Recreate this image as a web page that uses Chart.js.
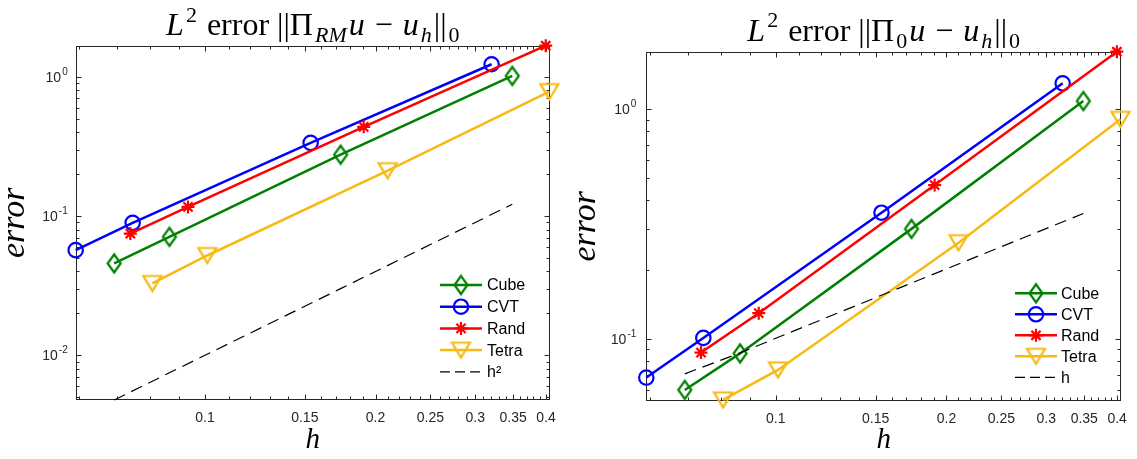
<!DOCTYPE html>
<html><head><meta charset="utf-8">
<script src="https://cdn.jsdelivr.net/npm/chart.js@4.4.0/dist/chart.umd.min.js"></script>
<style>
html,body{margin:0;padding:0;background:#fff;}
#wrap{position:relative;width:1137px;height:459px;background:#fff;}
canvas{position:absolute;left:0;top:0;}
</style></head><body>
<div id="wrap"><canvas id="c1" width="1137" height="459"></canvas><canvas id="c2" width="1137" height="459"></canvas></div>
<script>
// ---------------- data ----------------
const seriesNames = ['Cube', 'CVT', 'Rand', 'Tetra'];
const hCube  = [0.0691, 0.0865, 0.1735, 0.3487];
const hCVT   = [0.0591, 0.0745, 0.1536, 0.3206];
const hRand  = [0.0738, 0.0933, 0.1906, 0.3995];
const hTetra = [0.0807, 0.1009, 0.2101, 0.4054];

// left panel: ||Pi_RM u - u_h||_0
const eRM_Cube  = [0.0457, 0.0709, 0.276, 1.017];
const eRM_CVT   = [0.0569, 0.0894, 0.336, 1.233];
const eRM_Rand  = [0.0749, 0.1164, 0.438, 1.676];
const eRM_Tetra = [0.0328, 0.0521, 0.212, 0.784];
const eRM_ref   = [0.00477, 0.00748, 0.0301, 0.1216];   // h^2 guide
// right panel: ||Pi_0 u - u_h||_0
const e0_Cube  = [0.0600, 0.0865, 0.301, 1.083];
const e0_CVT   = [0.0679, 0.1010, 0.354, 1.293];
const e0_Rand  = [0.0872, 0.1294, 0.467, 1.775];
const e0_Tetra = [0.0543, 0.0733, 0.262, 0.902];
const e0_ref   = [0.0705, 0.0870, 0.175, 0.351];         // h guide

const xTickValues = [0.1, 0.15, 0.2, 0.25, 0.3, 0.35, 0.4];
const xTickLabels = ['0.1', '0.15', '0.2', '0.25', '0.3', '0.35', '0.4'];
const xMinorTicks = [0.06,0.07,0.08,0.09,0.11,0.12,0.13,0.14,0.16,0.17,0.18,0.19,0.21,0.22,0.23,0.24,0.26,0.27,0.28,0.29,0.31,0.32,0.33,0.34,0.36,0.37,0.38,0.39];
const yTickValuesL = [0.01, 0.1, 1];
const yTickExpL = ['-2', '-1', '0'];
const yTickValuesR = [0.1, 1];
const yTickExpR = ['-1', '0'];
const yMinorTicks = [0.002,0.003,0.004,0.005,0.006,0.007,0.008,0.009,0.02,0.03,0.04,0.05,0.06,0.07,0.08,0.09,0.2,0.3,0.4,0.5,0.6,0.7,0.8,0.9,2,3];

const xRange = [0.0591, 0.4065];
const yRangeL = [0.00477, 1.676];
const yRangeR = [0.0537, 1.775];

// ---------------- styles ----------------
const COL = {Cube:'rgb(0,128,0)', CVT:'rgb(0,0,255)', Rand:'rgb(255,0,0)', Tetra:'rgb(247,185,18)'};
const AX = '#262626';
const SANS = '"Liberation Sans", Arial, sans-serif';
const SERIF = '"Liberation Serif", "DejaVu Serif", serif';
Chart.defaults.font.family = SANS;

function markerCanvas(shape, color, w, h, lw) {
  const c = document.createElement('canvas');
  c.width = Math.ceil(w + lw * 2 + 2); c.height = Math.ceil(h + lw * 2 + 2);
  const g = c.getContext('2d');
  const cx = c.width / 2, cy = c.height / 2;
  g.strokeStyle = color; g.lineWidth = lw; g.lineJoin = 'miter';
  g.beginPath();
  if (shape === 'diamond') {
    g.moveTo(cx, cy - h / 2); g.lineTo(cx + w / 2, cy); g.lineTo(cx, cy + h / 2); g.lineTo(cx - w / 2, cy);
  } else {
    g.moveTo(cx - w / 2, cy - h / 2); g.lineTo(cx + w / 2, cy - h / 2); g.lineTo(cx, cy + h / 2);
  }
  g.closePath(); g.stroke();
  return c;
}
const diamondImg = markerCanvas('diamond', COL.Cube, 13, 18, 2.2);
const triImg = markerCanvas('tri', COL.Tetra, 18, 15, 2.2);

function pts(xs, ys) { return xs.map((x, i) => ({x: x, y: ys[i]})); }

function makeDatasets(eCube, eCVT, eRand, eTetra, eRef, refLabel) {
  const base = {borderWidth: 2.5, pointBorderWidth: 2.2, backgroundColor: 'rgba(0,0,0,0)', pointBackgroundColor: 'rgba(0,0,0,0)', clip: false, tension: 0, fill: false};
  return [
    Object.assign({}, base, {label: seriesNames[0], data: pts(hCube, eCube), borderColor: COL.Cube, pointBorderColor: COL.Cube, pointStyle: diamondImg, pointRadius: 9, order: 4}),
    Object.assign({}, base, {label: seriesNames[1], data: pts(hCVT, eCVT), borderColor: COL.CVT, pointBorderColor: COL.CVT, pointStyle: 'circle', pointRadius: 7.2, order: 3}),
    Object.assign({}, base, {label: seriesNames[2], data: pts(hRand, eRand), borderColor: COL.Rand, pointBorderColor: COL.Rand, pointStyle: 'star', pointRadius: 6.5, order: 2}),
    Object.assign({}, base, {label: seriesNames[3], data: pts(hTetra, eTetra), borderColor: COL.Tetra, pointBorderColor: COL.Tetra, pointStyle: triImg, pointRadius: 9, order: 1}),
    Object.assign({}, base, {label: refLabel, data: pts(hCube, eRef), borderColor: '#000', borderWidth: 1.2, borderDash: [12, 7], pointRadius: 0, order: 0})
  ];
}

function framePlugin(yMajor, yExp, yPad) {
  return {
    id: 'frame',
    beforeDatasetsDraw(chart) {
      const ctx = chart.ctx, a = chart.chartArea, xs = chart.scales.x, ys = chart.scales.y;
      ctx.save();
      ctx.strokeStyle = AX; ctx.lineWidth = 1;
      const L = Math.round(a.left) + 0.5, R = Math.round(a.right) - 0.5, T = Math.round(a.top) + 0.5, B = Math.round(a.bottom) - 0.5;
      ctx.strokeRect(L, T, R - L, B - T);
      ctx.beginPath();
      const xt = (v, len) => { const p = Math.round(xs.getPixelForValue(v)) + 0.5; ctx.moveTo(p, B); ctx.lineTo(p, B - len); ctx.moveTo(p, T); ctx.lineTo(p, T + len); };
      const yt = (v, len) => { const p = Math.round(ys.getPixelForValue(v)) + 0.5; ctx.moveTo(L, p); ctx.lineTo(L + len, p); ctx.moveTo(R, p); ctx.lineTo(R - len, p); };
      xTickValues.forEach(v => xt(v, 5));
      xMinorTicks.forEach(v => { if (v > xs.min && v < xs.max) xt(v, 3); });
      yMajor.forEach(v => { if (v >= ys.min && v <= ys.max) yt(v, 5); });
      yMinorTicks.forEach(v => { if (v > ys.min && v < ys.max) yt(v, 3); });
      ctx.stroke();
      // y tick labels: base "10" with raised exponent
      ctx.fillStyle = AX; ctx.textBaseline = 'alphabetic'; ctx.textAlign = 'left';
      yMajor.forEach((v, i) => {
        if (v < ys.min || v > ys.max) return;
        const p = ys.getPixelForValue(v);
        ctx.font = '10px ' + SANS; const we = ctx.measureText(yExp[i]).width;
        ctx.font = '14px ' + SANS; const wb = ctx.measureText('10').width;
        const x0 = a.left - yPad - we - wb - 1;
        ctx.fillText('10', x0, p + 5);
        ctx.font = '10px ' + SANS;
        ctx.fillText(yExp[i], x0 + wb + 1, p - 2);
      });
      ctx.restore();
    }
  };
}

function titlePlugin(segs, baseY, size, gap) {
  return {
    id: 'richTitle',
    afterDraw(chart) {
      const ctx = chart.ctx, a = chart.chartArea;
      const cx = (a.left + a.right) / 2;
      const fontOf = s => (s.it ? 'italic ' : '') + ((s.sub || s.sup) ? Math.round(size * 0.7) : size) + 'px ' + SERIF;
      ctx.save();
      ctx.fillStyle = '#000'; ctx.textBaseline = 'alphabetic'; ctx.textAlign = 'left';
      const widths = segs.map(s => { ctx.font = fontOf(s); return ctx.measureText(s.t).width + gap; });
      const total = widths.reduce((p, q) => p + q, 0) - gap;
      let x = cx - total / 2;
      segs.forEach((s, i) => {
        ctx.font = fontOf(s);
        const dy = s.sub ? size * 0.22 : (s.sup ? -size * 0.42 : 0);
        ctx.fillText(s.t, x, baseY + dy);
        x += widths[i];
      });
      ctx.restore();
    }
  };
}

function legendPlugin(x1, x2, tx, y0, dy) {
  return {
    id: 'inLegend',
    afterDraw(chart) {
      const ctx = chart.ctx;
      ctx.save();
      chart.data.datasets.forEach((ds, i) => {
        const y = y0 + i * dy;
        ctx.strokeStyle = ds.borderColor; ctx.lineWidth = ds.borderWidth;
        ctx.setLineDash(ds.borderDash ? [10, 5] : []);
        ctx.beginPath(); ctx.moveTo(x1, y); ctx.lineTo(x2, y); ctx.stroke();
        ctx.setLineDash([]);
        if (ds.pointRadius > 0) {
          ctx.strokeStyle = ds.pointBorderColor; ctx.fillStyle = 'rgba(0,0,0,0)'; ctx.lineWidth = ds.pointBorderWidth;
          Chart.helpers.drawPoint(ctx, {pointStyle: ds.pointStyle, radius: ds.pointRadius, rotation: 0, borderWidth: ds.pointBorderWidth}, (x1 + x2) / 2, y);
        }
        ctx.fillStyle = '#000'; ctx.font = '16px ' + SANS; ctx.textBaseline = 'middle'; ctx.textAlign = 'left';
        ctx.fillText(ds.label, tx, y + 1);
      });
      ctx.restore();
    }
  };
}

function makeChart(id, cfg) {
  return new Chart(document.getElementById(id), {
    type: 'line',
    data: {datasets: cfg.datasets},
    options: {
      responsive: false, animation: false, devicePixelRatio: 1,
      events: [],
      layout: {padding: {left: cfg.padL, right: 1137 - cfg.plotR, top: cfg.plotT, bottom: 0}},
      plugins: {legend: {display: false}, tooltip: {enabled: false}, title: {display: false}},
      scales: {
        x: {
          type: 'logarithmic', bounds: 'data', min: xRange[0], max: xRange[1],
          afterFit: s => { s.height = 459 - cfg.plotB; },
          afterBuildTicks: s => { s.ticks = xTickValues.map(v => ({value: v})); },
          ticks: {callback: (v, i) => xTickLabels[i], font: {family: SANS, size: 14}, color: AX, padding: 10, maxRotation: 0, autoSkip: false},
          grid: {display: false, drawTicks: false}, border: {display: false},
          title: {display: true, text: 'h', color: '#000', font: {family: SERIF, style: 'italic', size: 29, lineHeight: 1}, padding: {top: 0, bottom: 4}}
        },
        y: {
          type: 'logarithmic', bounds: 'data', min: cfg.yRange[0], max: cfg.yRange[1],
          afterFit: s => { s.width = cfg.plotL - cfg.padL; },
          afterBuildTicks: s => { s.ticks = cfg.yTicks.map(v => ({value: v})); },
          ticks: {display: false},
          grid: {display: false, drawTicks: false}, border: {display: false},
          title: {display: true, text: 'error', color: '#000', font: {family: SERIF, style: 'italic', size: 34, lineHeight: 1}, padding: {top: 0, bottom: 0}}
        }
      }
    },
    plugins: [framePlugin(cfg.yTicks, cfg.yExp, cfg.yPad), titlePlugin(cfg.title, cfg.titleY, 32, 2), legendPlugin(cfg.lg[0], cfg.lg[1], cfg.lg[2], cfg.lg[3], cfg.lg[4])]
  });
}

makeChart('c1', {
  datasets: makeDatasets(eRM_Cube, eRM_CVT, eRM_Rand, eRM_Tetra, eRM_ref, 'h\u00B2'),
  padL: -2, plotL: 75.7, plotR: 550, plotT: 45.7, plotB: 400,
  yRange: yRangeL, yTicks: yTickValuesL, yExp: yTickExpL, yPad: 8,
  title: [{t: 'L', it: true}, {t: '2', sup: true}, {t: ' error ||\u03A0'}, {t: 'RM', it: true, sub: true}, {t: 'u', it: true}, {t: ' \u2212 '}, {t: 'u', it: true}, {t: 'h', it: true, sub: true}, {t: '||'}, {t: '0', sub: true}],
  titleY: 35,
  lg: [440, 482, 487, 285, 21.7]
});
makeChart('c2', {
  datasets: makeDatasets(e0_Cube, e0_CVT, e0_Rand, e0_Tetra, e0_ref, 'h'),
  padL: 569, plotL: 646.3, plotR: 1123.3, plotT: 51.7, plotB: 401,
  yRange: yRangeR, yTicks: yTickValuesR, yExp: yTickExpR, yPad: 10,
  title: [{t: 'L', it: true}, {t: '2', sup: true}, {t: ' error ||\u03A0'}, {t: '0', sub: true}, {t: 'u', it: true}, {t: ' \u2212 '}, {t: 'u', it: true}, {t: 'h', it: true, sub: true}, {t: '||'}, {t: '0', sub: true}],
  titleY: 40.5,
  lg: [1015, 1057, 1061, 293.3, 21]
});
</script>
</body></html>
